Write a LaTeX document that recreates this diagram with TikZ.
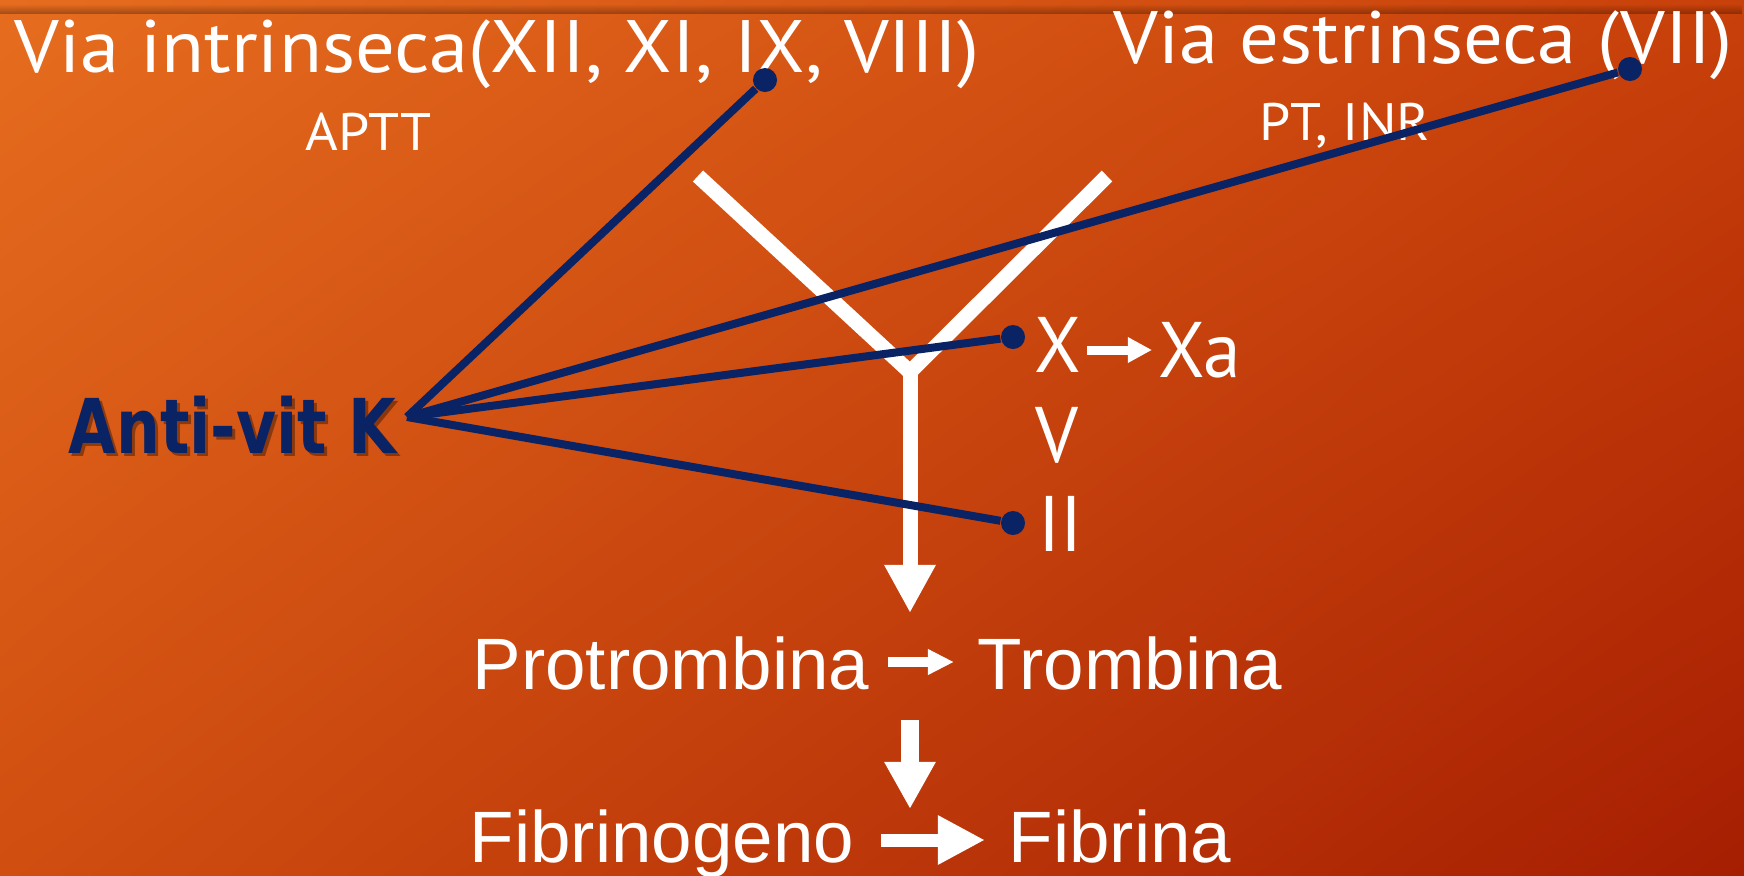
\documentclass[tikz,border=0pt]{standalone}
\usepackage{fontspec}
\usetikzlibrary{arrows.meta,fadings,shadings}
\setmainfont{Liberation Sans}
\newfontfamily\twfont[FakeStretch=1.06]{PT Sans}
\newfontfamily\facfont[FakeStretch=0.96]{PT Sans}
\newfontfamily\antifont[FakeStretch=0.815]{DejaVu Sans Bold}
\definecolor{navy}{HTML}{0A2364}
\definecolor{bgul}{HTML}{E66D1F}
\definecolor{bgur}{HTML}{C8400A}
\definecolor{bgll}{HTML}{D04E10}
\definecolor{bglr}{HTML}{A61E02}

\begin{document}
\begin{tikzpicture}[x=0.01cm,y=-0.01cm,
    lbl/.style={anchor=base west,inner sep=0pt,text=white},
    via/.style={lbl,font=\twfont\fontsize{21.1}{24}\selectfont},
    test/.style={lbl,font=\twfont\fontsize{15}{18}\selectfont},
    fac/.style={lbl,font=\facfont\fontsize{22.4}{26}\selectfont},
    prot/.style={lbl,font=\fontsize{20.7}{24}\selectfont},
    anti/.style={anchor=base west,inner sep=0pt,text=navy,font=\antifont\fontsize{21.5}{24}\selectfont},
    dot/.style={circle,fill=navy,inner sep=0pt,minimum size=0.24cm},
    link/.style={navy,line width=0.08cm},
    flow/.style={white,line cap=butt}]
  \useasboundingbox (0,0) rectangle (1744,875);
  % background
  \shade[upper left=bgul,upper right=bgur,lower left=bgll,lower right=bglr]
    (0,0) rectangle (1744,875);
  \fill[black,opacity=0.3,path fading=north] (0,4) rectangle (1744,14);

  % texts
  \node[via] (intr) at (14,72) {Via intrinseca(XII, XI, IX, VIII)};
  \node[test] (aptt) at (305,150) {APTT};
  \node[via] (estr) at (1113,63) {Via estrinseca (VII)};
  \node[test] (ptinr) at (1259,140) {PT, INR};
  \node[fac] (x) at (1034,372) {X};
  \node[fac] (xa) at (1158,377) {Xa};
  \node[fac] (v) at (1035,462) {V};
  \node[fac] (ii) at (1038,551) {II};
  \node[prot] (protro) at (472,689) {Protrombina};
  \node[prot] (trombina) at (977,689) {Trombina};
  \node[prot] (fibrinog) at (469,862) {Fibrinogeno};
  \node[prot] (fibrina) at (1008,862) {Fibrina};
  \node[anti,text=black,opacity=0.35] (antish) at (71,456) {Anti-vit K};
  \node[anti] (anti) at (68,453) {Anti-vit K};

  % cascade
  \coordinate (ytl) at (698,176);
  \coordinate (ytr) at (1107,176);
  \coordinate (yj) at (910,372);
  \coordinate (tip1) at (910,613);
  \coordinate (tip2a) at (910,720);
  \coordinate (tip2) at (910,809);
  \draw[flow,line width=0.15cm,miter limit=10] (ytl) -- (yj) -- (ytr);
  \draw[flow,line width=0.15cm,-{Triangle[length=0.48cm,width=0.48cm]}] (yj) -- (tip1);
  \draw[flow,line width=0.17cm,-{Triangle[length=0.47cm,width=0.48cm]}] (tip2a) -- (tip2);
  \draw[flow,line width=0.09cm,-{Triangle[length=0.24cm,width=0.24cm]}] (1087,350) coordinate (xs) -- (1152,350) coordinate (xe);
  \draw[flow,line width=0.10cm,-{Triangle[length=0.26cm,width=0.24cm]}] (888,662) coordinate (ps) -- (954,662) coordinate (pe);
  \draw[flow,line width=0.13cm,-{Triangle[length=0.47cm,width=0.46cm]}] (881,840) coordinate (fs) -- (985,840) coordinate (fe);

  % anti-vit K links
  \coordinate (tip) at (407,417);
  \node[dot] (dintr) at (765,80) {};
  \node[dot] (destr) at (1630,69) {};
  \node[dot] (dx) at (1013,337) {};
  \node[dot] (dii) at (1013,523) {};
  \draw[link] (tip) -- (dintr);
  \draw[link] (tip) -- (destr);
  \draw[link] (tip) -- (dx);
  \draw[link] (tip) -- (dii);
\end{tikzpicture}
\end{document}
